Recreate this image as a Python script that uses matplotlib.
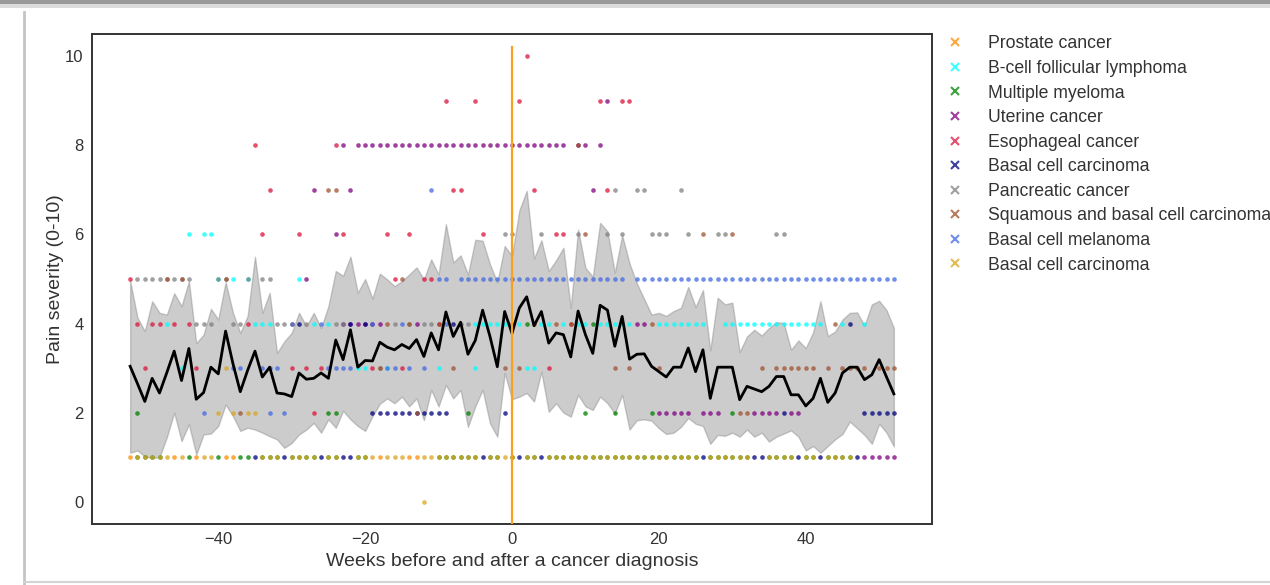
import matplotlib.pyplot as plt
from matplotlib.lines import Line2D
from matplotlib.patches import Rectangle

plt.rcParams['font.family'] = ['Liberation Sans', 'DejaVu Sans']
plt.rcParams['text.color'] = '#333333'
plt.rcParams['axes.labelcolor'] = '#333333'
plt.rcParams['xtick.color'] = '#333333'
plt.rcParams['ytick.color'] = '#333333'

#----data----
weeks = list(range(-52, 53))

mean_pain = [3.04, 2.65, 2.25, 2.77, 2.44, 2.90, 3.38, 2.72, 3.44, 2.30,
             2.45, 3.02, 2.87, 3.83, 3.10, 2.47, 2.95, 3.38, 2.80, 3.02,
             2.44, 2.42, 2.36, 2.89, 2.75, 2.77, 2.89, 2.77, 3.63, 3.19,
             3.86, 3.02, 3.17, 3.16, 3.58, 3.47, 3.41, 3.53, 3.44, 3.64,
             3.26, 3.79, 3.41, 4.26, 3.71, 4.03, 3.31, 3.62, 4.30, 3.71,
             3.03, 4.27, 3.78, 4.35, 4.60, 3.95, 4.27, 3.56, 3.79, 3.75,
             3.25, 4.28, 3.75, 3.33, 4.41, 4.30, 3.49, 4.16, 3.20, 3.31,
             3.32, 3.04, 2.92, 2.80, 3.02, 3.02, 3.45, 2.92, 3.41, 2.32,
             3.02, 3.02, 3.02, 2.29, 2.59, 2.53, 2.47, 2.59, 2.81, 2.81,
             2.40, 2.40, 2.15, 2.32, 2.77, 2.23, 2.44, 2.89, 3.02, 3.02,
             2.74, 2.85, 3.19, 2.80, 2.42]

upper_band = [4.96, 4.13, 3.83, 4.50, 4.24, 4.20, 4.68, 4.39, 4.95, 3.56,
              3.75, 4.33, 4.09, 4.93, 4.24, 3.79, 4.17, 5.50, 4.24, 4.69,
              3.34, 3.60, 3.79, 4.24, 3.94, 4.24, 3.90, 4.39, 5.18, 5.07,
              5.50, 4.69, 5.00, 4.56, 5.12, 4.99, 4.84, 4.95, 5.10, 5.26,
              4.99, 5.44, 5.10, 6.23, 5.37, 5.53, 5.10, 5.88, 5.86, 5.33,
              4.92, 5.74, 5.52, 6.54, 6.98, 5.46, 5.87, 5.18, 5.42, 5.70,
              4.35, 6.11, 5.25, 5.05, 6.26, 6.07, 5.14, 5.98, 5.35, 4.90,
              4.55, 4.20, 4.24, 4.17, 4.28, 4.35, 4.82, 4.37, 4.75, 3.40,
              4.58, 4.43, 4.47, 3.36, 3.71, 3.86, 3.73, 3.90, 4.03, 4.01,
              3.41, 3.62, 3.45, 3.80, 4.50, 3.72, 3.82, 4.09, 4.24, 4.25,
              3.95, 4.43, 4.51, 4.30, 3.90]

lower_band = [1.10, 1.15, 1.02, 0.98, 1.00, 1.45, 2.00, 1.36, 1.74, 1.06,
              1.51, 1.53, 1.70, 2.18, 1.92, 1.59, 1.66, 1.62, 1.55, 1.47,
              1.40, 1.21, 1.32, 1.51, 1.62, 1.77, 1.55, 1.85, 1.66, 2.04,
              1.85, 1.70, 1.59, 1.92, 2.20, 2.32, 2.21, 2.36, 2.14, 2.32,
              1.83, 2.51, 2.14, 2.62, 2.32, 2.51, 1.68, 2.14, 2.51, 1.76,
              1.46, 2.89, 2.30, 2.36, 2.44, 2.25, 2.92, 2.02, 2.21, 2.00,
              1.91, 2.40, 2.14, 2.06, 2.36, 2.21, 1.98, 2.40, 1.62, 1.83,
              1.85, 1.82, 1.65, 1.52, 1.55, 1.68, 1.88, 1.75, 1.70, 1.30,
              1.50, 1.48, 1.55, 1.46, 1.62, 1.46, 1.55, 1.35, 1.46, 1.53,
              1.60, 1.46, 1.15, 1.25, 1.10, 1.25, 1.40, 1.52, 1.80, 1.65,
              1.50, 1.30, 1.75, 1.55, 1.24]

# reported pain per cancer type: severity -> weeks with that score
prostate = {
    1: [-52, -46, -43, -39, -38, -18, -14, -13],
}
bcell_lymphoma = {
    6: [-44, -42, -41],
    5: [-40, -38, -36, -29],
    4: [-47, -35, -34, -33, -27, -25, -5, -4, -3, -2, -1, 1, 4, 5, 7, 9, 10,
        12, 13, 14, 15, 16, 20, 21, 22, 23, 24, 25, 26, 29, 30, 31, 32, 33,
        34, 35, 36, 37, 38, 39, 40, 41, 42, 45, 48],
    3: [-45, -21, -20, -17, -10, -5, 2, 3],
}
myeloma = {
    4: [2, 11],
    2: [-51, -25, -24, -6, 10, 14, 19, 30],
    1: [-51, -50, -49, -48, -44, -40, -37, -36, -34, -33, -32, -30, -29, -28,
        -27, -25, -24, -21, -20, -10, -9, -8, -7, -6, -5, -3, -2, 0, 2, 3, 5,
        6, 7, 8, 9, 10, 11, 12, 13, 14, 15, 16, 17, 18, 19, 20, 21, 22, 23,
        24, 25, 27, 28, 29, 30, 31, 32, 35, 36, 37, 38, 40, 41, 43, 44, 45, 46],
}
uterine = {
    9: [13],
    8: [-23, -21, -20, -19, -18, -17, -16, -15, -14, -13, -12, -11, -10, -9,
        -8, -7, -6, -5, -4, -3, -2, -1, 0, 1, 2, 3, 4, 5, 6, 7, 9, 10, 12],
    7: [-27, -22, 11],
    6: [-24],
    5: [-28],
    4: [-23, -22, -21, -20, -19, -18, -13, 17, 18],
    2: [20, 21, 22, 23, 24, 26, 27, 28, 33, 34, 35, 36, 38, 39],
    1: [48, 49, 50, 51, 52],
}
esophageal = {
    10: [2],
    9: [-9, -5, 1, 12, 15, 16],
    8: [-35, -24],
    7: [-33, -8, -7, 3, 13],
    6: [-34, -29, -23, -17, -14, -4, 6, 7],
    5: [-52, -16, -12, -11],
    4: [-51, -49, -48, -46, -44, -36, -10, 0, 8],
    3: [-50, -43, -30, -28, -26, -19, -15, 5],
    2: [-27],
}
basal_carcinoma_a = {
    4: [-29, -22, -20, -8, 46],
    2: [-19, -18, -17, -16, -15, -14, -13, -12, -11, -10, -9, -1, 37, 48, 49,
        50, 51, 52],
    1: [-35, -31, -26, -23, -22, -4, 1, 4, 26, 33, 34, 39, 42, 47],
}
pancreatic = {
    7: [14, 17, 18, 23],
    6: [-1, 0, 4, 9, 13, 15, 19, 20, 21, 24, 28, 29, 36, 37],
    5: [-51, -50, -49, -48, -47, -46, -45, -44, -40, -39, -36, -34, -33],
    4: [-43, -42, -41, -38, -37, -32, -31, -28, -24, -23, -16, -14, -12, -11,
        -7, -6],
    3: [-18],
}
squamous_basal = {
    8: [9],
    7: [-25, -24],
    6: [10, 26, 30],
    5: [-47, -45, -39, -15],
    4: [-30, -17, -14, -10, 3, 6, 8, 19, 44],
    3: [-18, -8, -1, 1, 14, 16, 20, 34, 36, 37, 38, 39, 40, 41, 43, 45, 46,
        47, 48, 50, 51, 52],
    2: [-37, -13, 31, 32],
}
melanoma = {
    7: [-11],
    5: [-10, -9, -7, -6, -5, -4, -3, -2, -1, 0, 1, 2, 3, 4, 5, 6, 7, 8, 9, 10,
        11, 12, 13, 14, 15, 17, 18, 19, 20, 21, 22, 23, 24, 25, 26, 27, 28, 29,
        30, 31, 32, 33, 34, 35, 36, 37, 38, 39, 40, 41, 42, 43, 44, 45, 46, 47,
        48, 49, 50, 51, 52],
    4: [-30, -26, -19, -15, -9],
    3: [-38, -37, -34, -33, -32, -25, -24, -23, -22, -17, -16, -14, -12],
    2: [-42, -33, -31],
}
basal_carcinoma_b = {
    3: [-39],
    2: [-40, -38, -36, -35],
    1: [-51, -50, -49, -48, -47, -45, -42, -41, -34, -33, -32, -30, -29, -28,
        -27, -25, -24, -21, -20, -19, -17, -16, -15, -12, -11, -10, -9, -8, -7,
        -6, -5, -3, -2, -1, 0, 2, 3, 5, 6, 7, 8, 9, 10, 11, 12, 13, 14, 15, 16,
        17, 18, 19, 20, 21, 22, 23, 24, 25, 27, 28, 29, 30, 31, 32, 35, 36, 37,
        38, 40, 41, 43, 44, 45, 46],
    0: [-12],
}

cancer_names = ['Prostate cancer', 'B-cell follicular lymphoma',
                'Multiple myeloma', 'Uterine cancer', 'Esophageal cancer',
                'Basal cell carcinoma', 'Pancreatic cancer',
                'Squamous and basal cell carcinoma', 'Basal cell melanoma',
                'Basal cell carcinoma']
cancer_colors = ['darkorange', 'cyan', 'green', 'purple', 'crimson', 'navy',
                 'grey', 'sienna', 'royalblue', 'goldenrod']
cancer_points = [prostate, bcell_lymphoma, myeloma, uterine, esophageal,
                 basal_carcinoma_a, pancreatic, squamous_basal, melanoma,
                 basal_carcinoma_b]

#----plot----
fig = plt.figure(figsize=(12.7, 5.85), dpi=100)
ax = fig.add_axes([0.0724, 0.1043, 0.6615, 0.8376])

# spread of the weekly scores
ax.fill_between(weeks, lower_band, upper_band, color='grey', alpha=0.4,
                zorder=1)

for col, pts in zip(cancer_colors, cancer_points):
    xs = [w for lvl in pts for w in pts[lvl]]
    ys = [lvl for lvl in pts for w in pts[lvl]]
    ax.scatter(xs, ys, s=11, color=col, alpha=0.75, linewidths=0, zorder=2)

# weekly average
ax.plot(weeks, mean_pain, color='black', lw=2, zorder=3)

# diagnosis week
ax.axvline(0, ymin=0, ymax=0.973, color='#f7a021', lw=1.6, zorder=4)

ax.set_xlim(-57.2, 57.2)
ax.set_ylim(-0.5, 10.5)
ax.set_xticks([-40, -20, 0, 20, 40])
ax.set_yticks([0, 2, 4, 6, 8, 10])
ax.tick_params(length=0, pad=6, labelsize=12)
for sp in ax.spines.values():
    sp.set_color('#333333')
    sp.set_linewidth(1.4)

ax.set_xlabel('Weeks before and after a cancer diagnosis', fontsize=14,
              labelpad=4)
ax.set_ylabel('Pain severity (0-10)', fontsize=14, labelpad=1)

handles = [Line2D([], [], ls='', marker='x', color=c, alpha=0.75,
                  markersize=6, markeredgewidth=1.5) for c in cancer_colors]
ax.legend(handles, cancer_names, loc='upper left', bbox_to_anchor=(1.0, 1.026),
          frameon=False, fontsize=12.7, labelspacing=0.43, handlelength=1.0,
          handletextpad=1.35, borderaxespad=0.4, borderpad=0.4)

# window edges around the figure
fig.add_artist(Rectangle((0, 1 - 8 / 585), 1, 8 / 585,
                         transform=fig.transFigure, color='#dcdcdc', lw=0))
fig.add_artist(Rectangle((0, 1 - 4 / 585), 1, 4 / 585,
                         transform=fig.transFigure, color='#9a9a9a', lw=0))
fig.add_artist(Line2D([24 / 1270, 24 / 1270], [0, 1 - 12 / 585],
                      transform=fig.transFigure, color='#c4c4c4', lw=2))
fig.add_artist(Line2D([24 / 1270, 1], [3 / 585, 3 / 585],
                      transform=fig.transFigure, color='#d4d4d4', lw=1.5))

fig.savefig('out.png', dpi=100)
